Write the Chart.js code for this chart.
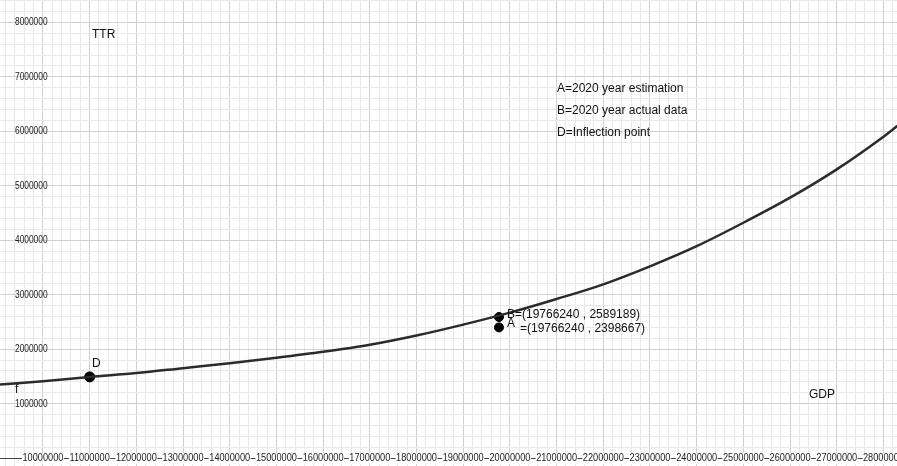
<!DOCTYPE html>
<html>
<head>
<meta charset="utf-8">
<script src="https://cdn.jsdelivr.net/npm/chart.js@4/dist/chart.umd.min.js"></script>
<style>
html,body{margin:0;padding:0;background:#fff;}
#wrap{width:897px;height:466px;}
</style>
</head>
<body>
<div id="wrap"><canvas id="c" width="897" height="466"></canvas></div>
<script>
// ---- data ----
const gdp = [9080000, 10000000, 11000000, 12000000, 13000000, 14000000, 15000000, 16000000, 17000000, 18000000, 19000000, 20000000, 21000000, 22000000, 23000000, 24000000, 25000000, 26000000, 27000000, 28000000, 28300000];
const ttr = [1350000, 1410000, 1490000, 1560000, 1650000, 1740000, 1840000, 1950000, 2080000, 2250000, 2450000, 2670000, 2920000, 3190000, 3520000, 3890000, 4320000, 4780000, 5300000, 5900000, 6100000];
const pointD = {x: 11000000, y: 1490000};
const pointB = {x: 19766240, y: 2589189};
const pointA = {x: 19766240, y: 2398667};
const xTickLabels = [10000000, 11000000, 12000000, 13000000, 14000000, 15000000, 16000000, 17000000, 18000000, 19000000, 20000000, 21000000, 22000000, 23000000, 24000000, 25000000, 26000000, 27000000, 28000000];
const yTickLabels = [1000000, 2000000, 3000000, 4000000, 5000000, 6000000, 7000000, 8000000];
const legendLines = ["A=2020 year estimation", "B=2020 year actual data", "D=Inflection point"];
const labelB = "B=(19766240 , 2589189)";
const labelA = "A";
const labelA2 = "=(19766240 , 2398667)";

const X_MIN = 9080000, X_MAX = 28290000, Y_MIN = -146000, Y_MAX = 8410000;
const STEP = 200000;

function stepTicks(min, max){
  const out = [];
  for (let k = Math.ceil(min/STEP); k*STEP <= max; k++) out.push({value: k*STEP});
  return out;
}
function gridColor(ctx){
  const v = ctx.tick ? ctx.tick.value : 0;
  return (Math.round(v) % 1000000 === 0) ? '#d0d0d0' : '#e9e9e9';
}

const labelsPlugin = {
  id: 'ggbLabels',
  afterDatasetsDraw(chart){
    const c = chart.ctx, xs = chart.scales.x, ys = chart.scales.y;
    c.save();
    // x axis line at y = 0
    const y0 = ys.getPixelForValue(0);
    c.strokeStyle = '#444'; c.lineWidth = 1;
    c.beginPath(); c.moveTo(0, Math.round(y0)+0.5); c.lineTo(chart.width, Math.round(y0)+0.5); c.stroke();
    c.font = '10px "Liberation Sans", Arial, sans-serif';
    c.textBaseline = 'middle'; c.textAlign = 'center';
    xTickLabels.forEach(v => {
      const px = xs.getPixelForValue(v);
      const t = String(v);
      const w = c.measureText(t).width * 0.92;
      c.fillStyle = '#fff';
      c.fillRect(px - w/2 - 0.5, y0 - 5, w + 1, 11);
      c.save();
      c.translate(px, y0 + 0.5);
      c.scale(0.92, 1);
      c.fillStyle = '#222';
      c.fillText(t, 0, 0);
      c.restore();
    });
    // y labels at the left edge
    c.textAlign = 'left';
    c.font = '11px "Liberation Sans", Arial, sans-serif';
    yTickLabels.forEach(v => {
      const py = ys.getPixelForValue(v);
      c.save();
      c.translate(15, py);
      c.scale(0.76, 1);
      c.fillStyle = '#222';
      c.fillText(String(v), 0, 0);
      c.restore();
    });
    // texts
    c.fillStyle = '#111';
    c.font = '12px "Liberation Sans", Arial, sans-serif';
    c.textBaseline = 'alphabetic';
    c.fillText('TTR', 92, 38);
    c.fillText('GDP', 809, 398);
    c.fillText('f', 15, 393);
    c.fillText('D', 92, 367);
    legendLines.forEach((t, i) => c.fillText(t, 557, 92 + i*22));
    const bx = xs.getPixelForValue(pointB.x), by = ys.getPixelForValue(pointB.y);
    c.fillText(labelB, bx + 8, by + 1);
    const ax = xs.getPixelForValue(pointA.x), ay = ys.getPixelForValue(pointA.y);
    c.fillText(labelA, ax + 8, ay + 0);
    c.fillText(labelA2, ax + 21, ay + 5);
    c.restore();
  }
};

new Chart(document.getElementById('c'), {
  type: 'scatter',
  data: {
    datasets: [
      {
        data: gdp.map((x, i) => ({x, y: ttr[i]})),
        showLine: true,
        borderColor: '#2b2b2b',
        borderWidth: 2.5,
        pointRadius: 0,
        cubicInterpolationMode: 'monotone',
        fill: false
      },
      {
        data: [pointD, pointB, pointA],
        pointRadius: [5, 4.5, 4.5],
        pointBackgroundColor: '#000',
        pointBorderColor: '#000',
        showLine: false
      }
    ]
  },
  options: {
    responsive: false,
    animation: false,
    layout: {padding: 0, autoPadding: false},
    plugins: {legend: {display: false}, tooltip: {enabled: false}},
    scales: {
      x: {
        type: 'linear', min: X_MIN, max: X_MAX,
        afterBuildTicks(s){ s.ticks = stepTicks(X_MIN, X_MAX); },
        ticks: {display: false, padding: 0},
        grid: {color: gridColor, drawTicks: false, lineWidth: 1},
        border: {display: false}
      },
      y: {
        type: 'linear', min: Y_MIN, max: Y_MAX,
        afterBuildTicks(s){ s.ticks = stepTicks(Y_MIN, Y_MAX); },
        ticks: {display: false, padding: 0},
        grid: {color: gridColor, drawTicks: false, lineWidth: 1},
        border: {display: false}
      }
    }
  },
  plugins: [labelsPlugin]
});
</script>
</body>
</html>
